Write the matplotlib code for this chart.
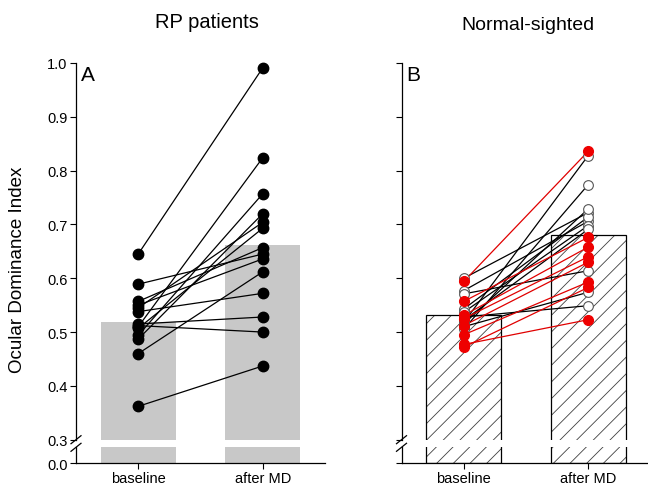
import matplotlib.pyplot as plt
import numpy as np

plt.rcParams['font.family'] = ['Liberation Sans', 'DejaVu Sans']
plt.rcParams['hatch.linewidth'] = 0.6
plt.rcParams['hatch.color'] = '#404040'

# ---- data ----
conditions = ['baseline', 'after MD']
yticks_top = [0.3, 0.4, 0.5, 0.6, 0.7, 0.8, 0.9, 1.0]

# panel A: RP patients (one line per patient)
rp_baseline = [0.645, 0.589, 0.557, 0.550, 0.545, 0.538, 0.515, 0.512, 0.510, 0.507, 0.494, 0.487, 0.460, 0.362]
rp_after = [0.991, 0.645, 0.657, 0.636, 0.704, 0.572, 0.528, 0.500, 0.824, 0.693, 0.757, 0.720, 0.612, 0.437]
rp_bar = [0.519, 0.662]

# panel B: normal-sighted, open symbols (black lines) and red symbols
ns_open_baseline = [0.600, 0.577, 0.571, 0.543, 0.537, 0.528, 0.522, 0.518, 0.515, 0.510, 0.505]
ns_open_after = [0.722, 0.706, 0.614, 0.714, 0.698, 0.549, 0.691, 0.828, 0.729, 0.574, 0.774]
ns_red_baseline = [0.594, 0.557, 0.531, 0.525, 0.512, 0.495, 0.477, 0.472]
ns_red_after = [0.836, 0.676, 0.658, 0.640, 0.630, 0.593, 0.523, 0.583]
ns_bar = [0.532, 0.680]

W, H = 648, 485
fig = plt.figure(figsize=(W / 100, H / 100), dpi=100)


def box(x0, y0, x1, y1):
    # pixel box (top-left origin) -> figure fraction rect
    return [x0 / W, 1 - y1 / H, (x1 - x0) / W, (y1 - y0) / H]


def make_pair(x0, x1, labels=True):
    top = fig.add_axes(box(x0, 64, x1, 440.7))
    low = fig.add_axes(box(x0, 448.3, x1, 464.3))
    for ax in (top, low):
        ax.set_xlim(-0.5, 1.5)
        ax.spines['top'].set_visible(False)
        ax.spines['right'].set_visible(False)
        ax.patch.set_alpha(0)
        ax.tick_params(direction='out', length=4, width=0.8, labelsize=10.5, pad=2)
        for s in ax.spines.values():
            s.set_linewidth(0.9)
    top.spines['bottom'].set_visible(False)
    top.set_ylim(0.3, 1.0)
    top.set_yticks(yticks_top)
    top.set_xticks([])
    low.set_ylim(0, 0.03)
    low.set_yticks([0])
    low.set_xticks([0, 1])
    low.set_xticklabels(conditions)
    low.tick_params(axis='x', pad=1.5)
    if labels:
        top.set_yticklabels([f'{v:.1f}' for v in yticks_top])
        low.set_yticklabels(['0.0'])
    else:
        top.set_yticklabels([])
        low.set_yticklabels([])
    # break marks on the y axis
    w = x1 - x0
    dx = 5 / w
    top.plot([-dx, dx], [-4 / 376.7, 4 / 376.7], color='k', lw=0.9,
             transform=top.transAxes, clip_on=False)
    low.plot([-dx, dx], [1 - 4 / 16, 1 + 4 / 16], color='k', lw=0.9,
             transform=low.transAxes, clip_on=False)
    return top, low


x = np.arange(len(conditions))

# ---- panel A ----
axA, axA_low = make_pair(76, 325)
for ax in (axA, axA_low):
    ax.bar(x, rp_bar, width=0.6, color='#c8c8c8', edgecolor='none', zorder=1)
for b, a in zip(rp_baseline, rp_after):
    axA.plot(x, [b, a], color='k', lw=0.9, zorder=2, clip_on=False)
axA.plot(np.zeros(len(rp_baseline)), rp_baseline, 'o', color='k', ms=7.5, zorder=3, clip_on=False)
axA.plot(np.ones(len(rp_after)), rp_after, 'o', color='k', ms=7.5, zorder=3, clip_on=False)
axA.text(0.018, 0.995, 'A', transform=axA.transAxes, ha='left', va='top', fontsize=15)

# ---- panel B ----
axB, axB_low = make_pair(401.5, 650.5, labels=False)
for ax in (axB, axB_low):
    ax.bar(x, ns_bar, width=0.6, color='white', edgecolor='#404040', linewidth=0,
           hatch='//', zorder=1)
    ax.bar(x, ns_bar, width=0.6, color='none', edgecolor='k', linewidth=0.9, zorder=1.5)
for b, a in zip(ns_open_baseline, ns_open_after):
    axB.plot(x, [b, a], color='k', lw=0.9, zorder=2)
for b, a in zip(ns_red_baseline, ns_red_after):
    axB.plot(x, [b, a], color='#e00000', lw=0.9, zorder=2.2)
axB.plot(np.zeros(len(ns_open_baseline)), ns_open_baseline, 'o', mfc='white', mec='#555555',
         mew=0.8, ms=7, zorder=3)
axB.plot(np.ones(len(ns_open_after)), ns_open_after, 'o', mfc='white', mec='#555555',
         mew=0.8, ms=7, zorder=3)
axB.plot(np.zeros(len(ns_red_baseline)), ns_red_baseline, 'o', color='#ee0000', ms=7, zorder=4)
axB.plot(np.ones(len(ns_red_after)), ns_red_after, 'o', color='#ee0000', ms=7, zorder=4)
axB.text(0.02, 0.995, 'B', transform=axB.transAxes, ha='left', va='top', fontsize=15)

# ---- titles and y label ----
fig.text(207 / W, 1 - 22 / H, 'RP patients', ha='center', va='center', fontsize=14.5)
fig.text(528 / W, 1 - 25 / H, 'Normal-sighted', ha='center', va='center', fontsize=14)
fig.text(18 / W, 1 - 270 / H, 'Ocular Dominance Index', ha='center', va='center',
         rotation=90, fontsize=13.5)

fig.savefig('out.png', dpi=100)
